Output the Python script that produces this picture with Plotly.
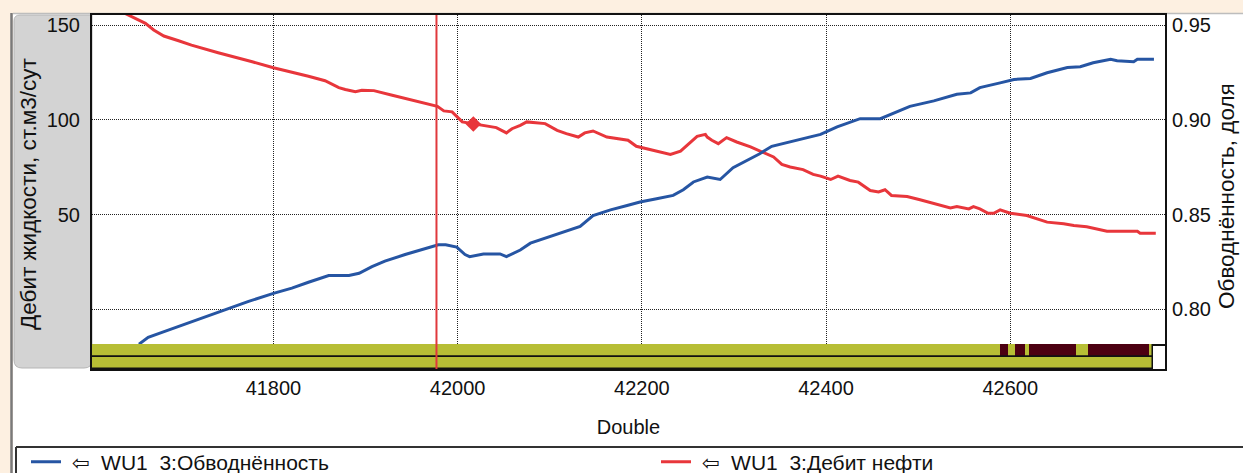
import plotly.graph_objects as go

W, H = 1243, 473
FONT = "Liberation Sans, Arial, DejaVu Sans, sans-serif"

# ---------------- data ----------------
x_range = [41603, 42768]
x_ticks = [41800, 42000, 42200, 42400, 42600]
left_ticks = [50, 100, 150]
right_ticks = [0.80, 0.85, 0.90, 0.95]
right_ticktext = ["0.80", "0.85", "0.90", "0.95"]
left_range = [-18.3, 155.3]
right_range = [0.7817, 0.9553]

left_title = "Дебит жидкости, ст.м3/сут"
right_title = "Обводнённость, доля"
x_title = "Double"

# WU1 3: Обводнённость (right axis)
wc_x = [41654, 41664, 41679, 41704, 41722, 41748, 41773, 41800, 41820, 41838,
        41860, 41882, 41893, 41907, 41921, 41943, 41961, 41979, 41987, 41999,
        42008, 42013, 42028, 42046, 42053, 42068, 42079, 42100, 42118, 42133,
        42147, 42166, 42184, 42198, 42216, 42234, 42245, 42256, 42271, 42285,
        42299, 42314, 42328, 42341, 42357, 42375, 42394, 42412, 42437, 42459,
        42473, 42491, 42517, 42542, 42557, 42567, 42589, 42604, 42622, 42640,
        42662, 42676, 42690, 42709, 42716, 42734, 42738, 42756]
wc_y = [0.7816, 0.7852, 0.7878, 0.7922, 0.7954, 0.7996, 0.8042, 0.8084, 0.8112, 0.8143,
        0.8178, 0.8178, 0.8190, 0.8225, 0.8254, 0.8289, 0.8313, 0.8341, 0.8341, 0.8328,
        0.8289, 0.8278, 0.8292, 0.8292, 0.8278, 0.8313, 0.8349, 0.8384, 0.8416, 0.8437,
        0.8495, 0.8525, 0.8548, 0.8566, 0.8583, 0.8601, 0.8631, 0.8672, 0.8698, 0.8685,
        0.8747, 0.8786, 0.8821, 0.8860, 0.8878, 0.8901, 0.8923, 0.8963, 0.9006, 0.9006,
        0.9036, 0.9071, 0.9100, 0.9135, 0.9142, 0.9170, 0.9195, 0.9213, 0.9218, 0.9248,
        0.9276, 0.9280, 0.9301, 0.9319, 0.9312, 0.9306, 0.9319, 0.9319]

# WU1 3: Дебит нефти (left axis)
oil_x = [41610, 41643, 41661, 41670, 41681, 41697, 41711, 41740, 41758, 41777,
         41800, 41820, 41838, 41856, 41871, 41878, 41889, 41896, 41909, 41929,
         41950, 41965, 41978, 41985, 41994, 42005, 42017, 42032, 42042, 42053,
         42059, 42068, 42075, 42095, 42108, 42118, 42131, 42138, 42147, 42162,
         42173, 42185, 42194, 42209, 42220, 42231, 42242, 42251, 42260, 42269,
         42271, 42276, 42283, 42292, 42303, 42318, 42332, 42343, 42352, 42361,
         42375, 42386, 42394, 42405, 42413, 42426, 42435, 42448, 42457, 42464,
         42471, 42488, 42502, 42517, 42535, 42542, 42555, 42560, 42567, 42576,
         42582, 42589, 42600, 42618, 42640, 42658, 42669, 42683, 42694, 42705,
         42738, 42741, 42758]
oil_y = [163, 155.3, 150.9, 147.4, 144.2, 141.7, 139.4, 135.4, 132.9, 130.6,
         127.5, 125.3, 123.0, 120.6, 117.0, 116.0, 114.8, 115.6, 115.4, 113.0,
         110.3, 108.6, 107.1, 104.7, 104.2, 98.9, 97.8, 96.6, 95.9, 93.1,
         95.3, 97.1, 98.9, 98.0, 94.4, 92.7, 90.9, 93.1, 94.1, 90.9,
         90.0, 89.2, 86.0, 84.2, 83.0, 81.7, 83.5, 87.4, 91.3, 92.3,
         90.9, 89.2, 87.4, 90.6, 88.3, 85.7, 82.5, 80.4, 76.5, 75.1,
         73.7, 71.2, 70.3, 68.5, 70.3, 68.0, 67.1, 62.7, 61.9, 63.1,
         60.1, 59.5, 57.8, 56.0, 53.5, 54.2, 53.0, 54.2, 53.0, 50.7,
         50.7, 52.5, 50.7, 49.5, 46.0, 45.1, 44.2, 43.6, 42.5, 41.2,
         41.2, 40.1, 40.1]

# highlighted point and cursor
marker_x = [42017]
marker_y = [97.8]
cursor_x = 41977

# status strips
strip_names = ["bottom", "top"]
strip_start = 41603
strip_end = 42755
maroon_start = [42589, 42605, 42620, 42684]
maroon_end = [42598, 42616, 42671, 42751]

# ---------------- styling ----------------
BLUE = "#2655A3"
RED = "#E8363B"
OLIVE = "#B7BE35"
MAROON = "#4C0011"
CREAM = "#FDF0E1"
GRAYPANEL = "#D3D3D3"
INK = "#111"

def fx(p):
    return p / W

def fy(p):
    return 1 - p / H

X_DOM = [fx(92), fx(1165)]
MAIN_DOM = [fy(344), fy(15)]
STRIP_DOM = [fy(369), fy(344)]

NB = "\u00a0"
fig = go.Figure()

fig.add_trace(go.Scatter(
    x=wc_x, y=wc_y, xaxis="x", yaxis="y2", mode="lines",
    line=dict(color=BLUE, width=3), legend="legend",
    name=f"{NB}\u21e6{NB}{NB}WU1{NB}{NB}3:Обводнённость"))
fig.add_trace(go.Scatter(
    x=oil_x, y=oil_y, xaxis="x", yaxis="y", mode="lines",
    line=dict(color=RED, width=3), legend="legend2",
    name=f"{NB}\u21e6{NB}{NB}WU1{NB}{NB}3:Дебит нефти"))
fig.add_trace(go.Scatter(
    x=marker_x, y=marker_y, xaxis="x", yaxis="y", mode="markers",
    marker=dict(symbol="diamond", size=12, color=RED),
    showlegend=False, hoverinfo="skip"))

# strips
fig.add_trace(go.Bar(
    y=strip_names, x=[strip_end - strip_start] * 2, base=[strip_start] * 2,
    orientation="h", xaxis="x2", yaxis="y3", width=1,
    marker=dict(color=OLIVE, line=dict(width=0)),
    showlegend=False, hoverinfo="skip"))
fig.add_trace(go.Bar(
    y=["top"] * len(maroon_start),
    x=[e - s for s, e in zip(maroon_start, maroon_end)], base=maroon_start,
    orientation="h", xaxis="x2", yaxis="y3", width=1,
    marker=dict(color=MAROON, line=dict(width=0)),
    showlegend=False, hoverinfo="skip"))
fig.add_trace(go.Bar(
    y=strip_names, x=[strip_end - strip_start] * 2, base=[strip_start] * 2,
    orientation="h", xaxis="x2", yaxis="y3", width=1,
    marker=dict(color="rgba(0,0,0,0)", line=dict(color=INK, width=1.5)),
    showlegend=False, hoverinfo="skip"))

grid = dict(showgrid=True, gridcolor="#222", gridwidth=1, griddash="1px,1px")
tickfont = dict(family=FONT, size=20, color=INK)
legfont = dict(family=FONT, size=21, color=INK)
titlefont = dict(family=FONT, size=22.5, color=INK)

shapes = [
    # white panel
    dict(type="rect", xref="paper", yref="paper", x0=fx(13), x1=1, y0=0, y1=fy(13),
         fillcolor="white", line=dict(width=0), layer="below"),
    dict(type="line", xref="paper", yref="paper", x0=fx(13), x1=1, y0=fy(13.5), y1=fy(13.5),
         line=dict(color="#BDBDBD", width=1.5), layer="below"),
    dict(type="line", xref="paper", yref="paper", x0=fx(11.5), x1=fx(11.5), y0=0, y1=fy(13),
         line=dict(color="#7A7A7A", width=2.5), layer="below"),
    # gray label panel with rounded corners
    dict(type="path", xref="paper", yref="paper", layer="below",
         path=(f"M {fx(14)},{fy(21)} Q {fx(14)},{fy(15)} {fx(20)},{fy(15)} "
               f"L {fx(92)},{fy(15)} L {fx(92)},{fy(360)} "
               f"Q {fx(92)},{fy(368)} {fx(84)},{fy(368)} "
               f"L {fx(22)},{fy(368)} Q {fx(14)},{fy(368)} {fx(14)},{fy(360)} Z"),
         fillcolor=GRAYPANEL, line=dict(color="#B5B5B5", width=1)),
    # legend frame
    dict(type="line", xref="paper", yref="paper", x0=fx(16), x1=1, y0=fy(447), y1=fy(447),
         line=dict(color="#333", width=2)),
    dict(type="line", xref="paper", yref="paper", x0=fx(16), x1=fx(16), y0=0, y1=fy(447),
         line=dict(color="#333", width=2)),
    # cursor
    dict(type="line", xref="x", yref="paper", x0=cursor_x, x1=cursor_x,
         y0=STRIP_DOM[0], y1=MAIN_DOM[1], line=dict(color="#E0383C", width=2), layer="above"),
]

annotations = [
    dict(text=left_title, xref="paper", yref="paper", x=fx(28), y=fy(194),
         xanchor="center", yanchor="middle", textangle=-90, showarrow=False,
         font=titlefont),
    dict(text=right_title, xref="paper", yref="paper", x=fx(1226), y=fy(196),
         xanchor="center", yanchor="middle", textangle=-90, showarrow=False,
         font=titlefont),
]

fig.update_layout(
    width=W, height=H, autosize=False,
    margin=dict(l=0, r=0, t=0, b=0, pad=0, autoexpand=False),
    paper_bgcolor=CREAM, plot_bgcolor="white",
    barmode="overlay", bargap=0,
    font=dict(family=FONT, size=20, color=INK),
    showlegend=True,
    legend=dict(orientation="h", x=fx(26), y=fy(462), xanchor="left", yanchor="middle",
                bgcolor="rgba(0,0,0,0)", borderwidth=0, font=legfont,
                itemclick=False, itemdoubleclick=False),
    legend2=dict(orientation="h", x=fx(656), y=fy(462), xanchor="left", yanchor="middle",
                 bgcolor="rgba(0,0,0,0)", borderwidth=0, font=legfont,
                 itemclick=False, itemdoubleclick=False),
    xaxis=dict(domain=X_DOM, anchor="y", range=x_range, tickvals=x_ticks,
               showticklabels=False, ticks="", zeroline=False,
               showline=True, mirror=True, linecolor=INK, linewidth=2, **grid),
    xaxis2=dict(domain=X_DOM, anchor="y3", matches="x", range=x_range, tickvals=x_ticks,
                tickformat="d",
                showgrid=False, zeroline=False, ticks="", showline=True, linecolor=INK,
                linewidth=1.5, tickfont=tickfont, ticklabelstandoff=0,
                title=dict(text=x_title, font=dict(family=FONT, size=20, color=INK),
                           standoff=22)),
    yaxis=dict(domain=MAIN_DOM, anchor="x", range=left_range, tickvals=left_ticks,
               showgrid=False, zeroline=False, ticks="", showline=True, linecolor=INK,
               linewidth=2, tickfont=tickfont, ticklabelstandoff=6),
    yaxis2=dict(domain=MAIN_DOM, anchor="x", overlaying="y", side="right",
                range=right_range, tickvals=right_ticks, ticktext=right_ticktext,
                zeroline=False, ticks="", showline=True, linecolor=INK, linewidth=2,
                tickfont=tickfont, ticklabelstandoff=1, **grid),
    yaxis3=dict(domain=STRIP_DOM, anchor="x2", type="category",
                categoryorder="array", categoryarray=strip_names, range=[-0.5, 1.5],
                showticklabels=False, showgrid=False, zeroline=False, ticks="",
                showline=True, mirror=True, linecolor=INK, linewidth=2),
    shapes=shapes,
    annotations=annotations,
)

fig.write_html("out.html")
